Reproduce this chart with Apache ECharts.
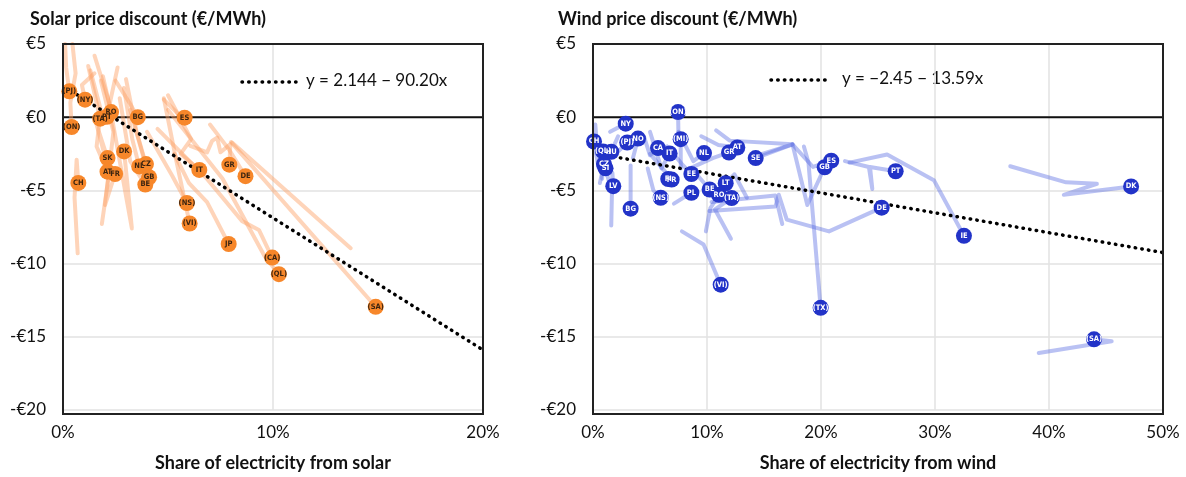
<!DOCTYPE html>
<html><head><meta charset="utf-8">
<script src="https://cdn.jsdelivr.net/npm/echarts@6/dist/echarts.min.js"></script>
<style>html,body{margin:0;padding:0;background:#fff}#c{width:1186px;height:477px}</style>
</head><body><div id="c"></div>
<script>
// ---------- DATA ----------
const solarTitle = 'Solar price discount (€/MWh)';
const windTitle = 'Wind price discount (€/MWh)';
const solarAxisName = 'Share of electricity from solar';
const windAxisName = 'Share of electricity from wind';
const solarEquation = 'y = 2.144 \u2212 90.20x';
const windEquation = 'y = \u22122.45 \u2212 13.59x';
const yTickValues = [5, 0, -5, -10, -15, -20];
const yTickLabels = ['€5', '€0', '-€5', '-€10', '-€15', '-€20'];

// Solar: latest points (share %, discount €/MWh)
const solarLabels = ['(PJ)','(NY)','(TA)','PT','RO','BG','ES','(ON)','DK','SK','NL','CZ','AT','FR','GB','BE','CH','IT','GR','DE','(NS)','(VI)','JP','(CA)','(QL)','(SA)'];
const solarX = [0.30,1.05,1.77,2.09,2.29,3.56,5.79,0.41,2.91,2.12,3.63,3.95,2.12,2.48,4.10,3.92,0.73,6.49,7.92,8.69,5.90,6.03,7.89,9.96,10.28,14.89];
const solarY = [1.77,1.20,-0.10,0.03,0.35,0.00,-0.03,-0.67,-2.34,-2.79,-3.36,-3.20,-3.72,-3.88,-4.10,-4.60,-4.49,-3.60,-3.24,-4.03,-5.86,-7.26,-8.66,-9.59,-10.72,-12.95];

// Solar: historical trails [share %, discount]
const solarTrails = [
  [[0.10,5.0],[0.15,3.4],[0.30,1.77]],
  [[0.45,5.0],[0.60,3.0],[0.35,1.0],[0.41,-0.67]],
  [[1.50,3.0],[0.90,2.2],[1.05,1.20]],
  [[0.70,-9.3],[0.55,-5.5],[0.65,-2.9],[0.73,-4.49]],
  [[1.85,-7.3],[2.20,-3.8],[1.60,-0.5],[2.12,-2.79]],
  [[1.30,3.2],[1.80,0.5],[1.60,-2.0],[2.12,-3.72]],
  [[1.80,2.5],[2.40,-1.0],[2.00,-6.0],[2.48,-3.88]],
  [[1.50,4.2],[2.20,1.0],[3.28,-7.6],[2.91,-2.34]],
  [[1.20,3.5],[1.77,-0.10]],
  [[2.60,3.4],[2.09,0.03]],
  [[1.90,2.8],[2.29,0.35]],
  [[2.50,2.5],[3.20,0.9],[3.56,0.00]],
  [[4.80,1.2],[5.50,0.2],[5.79,-0.03]],
  [[2.90,2.0],[3.30,-1.5],[3.63,-3.36]],
  [[3.00,2.6],[3.50,-1.0],[3.95,-3.20]],
  [[3.20,0.5],[4.10,-4.10]],
  [[2.70,1.3],[3.20,-3.0],[3.92,-4.60]],
  [[5.00,1.5],[6.10,-1.5],[5.60,-2.5],[6.49,-3.60]],
  [[6.06,-1.96],[6.86,-2.40],[7.10,-1.62],[7.34,-1.39],[7.50,-2.40],[7.97,-1.84],[7.92,-3.24]],
  [[7.00,-0.5],[7.90,-2.2],[8.69,-4.03]],
  [[8.05,-1.73],[13.7,-8.95]],
  [[4.00,-1.0],[5.20,-4.0],[5.90,-5.86]],
  [[4.80,1.3],[5.40,-3.0],[6.03,-7.26]],
  [[5.30,-2.5],[6.00,-4.5],[6.86,-5.8],[7.89,-8.66]],
  [[4.50,-0.8],[6.85,-4.2],[8.53,-7.1],[9.33,-7.7],[9.96,-9.59]],
  [[5.00,0.5],[7.60,-4.2],[9.60,-9.5],[10.28,-10.72]],
  [[8.00,-1.7],[14.89,-12.95]]
];

// Wind: latest points
const windLabels = ['(ON)','NY','CH','(PJ)','NO','(MI)','CA','IT','(QL)','HU','CZ','SI','LV','BG','(NS)','FI','FR','EE','PL','NL','GR','AT','SE','BE','LT','RO','(TA)','GB','ES','PT','DE','IE','DK','(SA)','(VI)','(TX)'];
const windX = [7.46,2.87,0.09,3.00,3.95,7.69,5.70,6.72,0.88,1.60,0.96,1.10,1.78,3.30,5.94,6.60,6.90,8.63,8.63,9.74,11.93,12.66,14.27,10.23,11.64,11.05,12.16,20.32,20.90,26.55,25.32,32.54,47.20,43.95,11.20,19.97];
const windY = [0.35,-0.44,-1.66,-1.73,-1.46,-1.50,-2.11,-2.48,-2.34,-2.36,-3.20,-3.49,-4.71,-6.25,-5.50,-4.22,-4.26,-3.88,-5.16,-2.45,-2.41,-2.07,-2.79,-4.94,-4.51,-5.30,-5.52,-3.42,-2.97,-3.69,-6.18,-8.10,-4.73,-15.17,-11.44,-13.02];

// Wind: historical trails
const windTrails = [
  [[39.1,-16.1],[45.5,-15.3],[43.95,-15.17]],
  [[36.6,-3.35],[41.5,-4.45],[44.2,-4.55],[41.3,-5.3],[47.2,-4.73]],
  [[22.5,-3.1],[25.8,-2.55],[29.9,-4.3],[32.54,-8.1]],
  [[22.1,-3.0],[24.2,-3.4],[24.5,-4.9],[24.3,-3.4],[26.55,-3.69]],
  [[10.2,-6.4],[16.0,-6.1],[16.3,-5.3],[17.0,-7.0],[20.7,-7.8],[25.32,-6.18]],
  [[10.4,-5.8],[16.0,-5.35],[16.6,-7.3]],
  [[17.5,-1.85],[18.8,-6.0],[20.32,-3.42]],
  [[14.5,-2.6],[17.5,-1.85],[19.3,-3.4],[20.9,-2.97]],
  [[18.5,-2.0],[18.9,-3.1],[19.97,-13.02]],
  [[7.8,-7.8],[9.7,-8.7],[11.2,-11.44]],
  [[9.9,-7.8],[10.3,-6.2],[11.05,-5.3]],
  [[12.1,-8.3],[10.7,-6.3],[12.16,-5.52]],
  [[9.2,-4.0],[10.23,-4.94]],
  [[13.5,-5.5],[12.4,-3.9],[11.64,-4.51]],
  [[10.8,-0.9],[12.0,-1.6],[17.5,-1.85],[14.27,-2.79]],
  [[9.5,-1.3],[11.0,-1.9],[12.66,-2.07]],
  [[8.5,-3.5],[10.5,-2.8],[11.93,-2.41]],
  [[7.5,-1.0],[8.8,-3.0],[9.74,-2.45]],
  [[6.5,-2.0],[7.8,-3.2],[8.63,-3.88]],
  [[7.1,-5.9],[8.63,-5.16]],
  [[4.8,-3.5],[5.3,-5.0],[5.94,-5.5]],
  [[5.0,-2.5],[6.2,-3.6],[6.9,-4.26]],
  [[5.0,-1.0],[6.0,-3.5],[6.72,-2.48]],
  [[4.5,-1.4],[5.0,-2.6],[5.7,-2.11]],
  [[7.7,-3.5],[7.69,-1.5]],
  [[7.5,-1.4],[7.46,0.35]],
  [[1.5,-1.0],[2.87,-0.44]],
  [[2.0,-2.5],[3.0,-1.73]],
  [[3.5,-2.8],[3.95,-1.46]],
  [[0.2,-0.5],[0.5,-3.5],[0.09,-1.66]],
  [[0.8,-4.2],[0.88,-2.34]],
  [[2.2,-1.3],[1.6,-2.36]],
  [[0.6,-4.5],[0.96,-3.2]],
  [[1.6,-5.0],[1.1,-3.49]],
  [[1.6,-7.4],[1.7,-3.8],[1.78,-4.71]],
  [[3.3,-3.3],[3.3,-6.25]]
];

// Fitted trend lines (endpoints)
const solarTrend = [[0.4,1.78],[20,-15.9]];
const windTrend = [[2.4,-2.78],[50,-9.25]];
const zeroLineSolar = [[0,0],[20,0]];
const zeroLineWind = [[0,0],[50,0]];

// ---------- CHART ----------
const FONT = 'Lato, "Open Sans", sans-serif';
const chart = echarts.init(document.getElementById('c'), null, {renderer:'canvas'});
const yFmt = v => { const i = yTickValues.indexOf(v); return i >= 0 ? yTickLabels[i] : ''; };

function xAxis(grid, max, name) {
  return {
    type:'value', gridIndex:grid, min:0, max:max, interval:10,
    name:name, nameLocation:'middle', nameGap:44,
    nameTextStyle:{fontFamily:FONT, fontSize:18, fontWeight:'bold', color:'#111'},
    axisLine:{show:false}, axisTick:{show:false},
    axisLabel:{formatter:'{value}%', fontFamily:FONT, fontSize:17, color:'#111', margin:14},
    splitLine:{show:true, lineStyle:{color:'#e2e2e2', width:1.5}}
  };
}
function yAxis(grid) {
  return {
    type:'value', gridIndex:grid, min:-20, max:5, interval:5,
    axisLine:{show:false}, axisTick:{show:false},
    axisLabel:{formatter:yFmt, fontFamily:FONT, fontSize:17, color:'#111', margin:17},
    splitLine:{show:true, lineStyle:{color:'#e2e2e2', width:1.5}}
  };
}

const series = [];
function addPanel(idx, trails, lineColor, labels, xs, ys, dotColor, labelColor, trend, zero) {
  series.push({type:'line', xAxisIndex:idx, yAxisIndex:idx, data:zero, showSymbol:false, silent:true,
    lineStyle:{color:'#111', width:2}, z:2});
  trails.forEach(t => series.push({
    type:'line', xAxisIndex:idx, yAxisIndex:idx, data:t, showSymbol:false, silent:true,
    lineStyle:{color:lineColor, width:4, cap:'round', join:'round'}, z:3
  }));
  series.push({type:'line', xAxisIndex:idx, yAxisIndex:idx, data:trend, showSymbol:false, silent:true,
    lineStyle:{color:'#000', width:3.5, type:[0.5,6.2], cap:'round'}, z:4});
  series.push({
    type:'scatter', xAxisIndex:idx, yAxisIndex:idx, symbolSize:16, z:5,
    data: labels.map((l,i)=>[xs[i], ys[i], l]),
    itemStyle:{color:dotColor, opacity:1},
    labelLayout:{hideOverlap:false},
    label:{show:true, position:'inside', formatter:p=>p.value[2], overflow:'none', width:40,
      fontFamily:'"DejaVu Sans Condensed", "Liberation Sans Narrow", sans-serif',
      fontSize:7.5, fontWeight:'bold', color:labelColor}
  });
}
addPanel(0, solarTrails, 'rgba(252,160,100,0.45)', solarLabels, solarX, solarY, '#f7872a', '#3b2410', solarTrend, zeroLineSolar);
addPanel(1, windTrails, 'rgba(80,100,225,0.40)', windLabels, windX, windY, '#2233c8', '#ffffff', windTrend, zeroLineWind);

const option = {
  backgroundColor:'#fff',
  animation:false,
  title:[
    {text:solarTitle, left:25, top:5, textStyle:{fontFamily:FONT, fontSize:18, fontWeight:'bold', color:'#111'}},
    {text:windTitle, left:553, top:5, textStyle:{fontFamily:FONT, fontSize:18, fontWeight:'bold', color:'#111'}}
  ],
  grid:[
    {left:63, top:44, width:420, height:370},
    {left:593, top:44, width:570, height:370}
  ],
  xAxis:[xAxis(0,20,solarAxisName), xAxis(1,50,windAxisName)],
  yAxis:[yAxis(0), yAxis(1)],
  series:series,
  graphic:[
    {type:'rect', z:10, silent:true, shape:{x:63, y:44, width:420, height:370}, style:{fill:null, stroke:'#222', lineWidth:2}},
    {type:'rect', z:10, silent:true, shape:{x:593, y:44, width:570, height:370}, style:{fill:null, stroke:'#222', lineWidth:2}},
    {type:'line', shape:{x1:242, y1:82, x2:296, y2:82}, style:{stroke:'#000', lineWidth:3.5, lineDash:[0.5,6.2], lineCap:'round'}},
    {type:'text', left:306, top:72, style:{text:solarEquation, font:'17px Lato, sans-serif', fill:'#111'}},
    {type:'line', shape:{x1:771, y1:80, x2:829, y2:80}, style:{stroke:'#000', lineWidth:3.5, lineDash:[0.5,6.2], lineCap:'round'}},
    {type:'text', left:842, top:70, style:{text:windEquation, font:'17px Lato, sans-serif', fill:'#111'}}
  ]
};
chart.setOption(option);
</script></body></html>
